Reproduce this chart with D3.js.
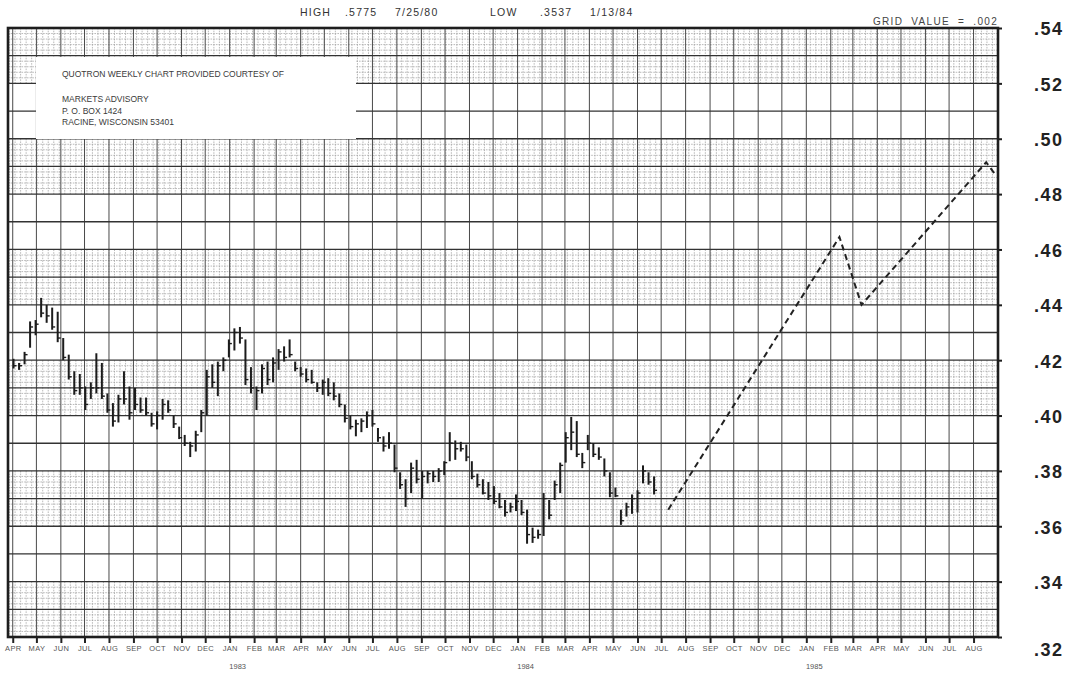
<!DOCTYPE html>
<html><head><meta charset="utf-8">
<script src="https://cdn.jsdelivr.net/npm/d3@7"></script>
<style>
html,body{margin:0;padding:0;background:#fff;}
svg{display:block;font-family:"Liberation Sans",Arial,sans-serif;}
</style></head>
<body>
<svg id="chart" width="1073" height="676"></svg>
<script>
// ---- data ----
const firstWeek = new Date(1982, 3, 2); // weekly bars, Fridays
const highs = [.4205,.419,.423,.434,.4345,.4425,.440,.439,.4375,.428,.422,.416,.415,.4105,.412,.4225,.419,.408,.4045,.4075,
 .416,.4105,.410,.4065,.4065,.401,.4015,.406,.4055,.400,.396,.393,.3905,.3945,.402,.4165,.4185,.4195,.421,.4275,
 .4315,.432,.4275,.4175,.4105,.4185,.4195,.421,.424,.425,.4275,.4195,.4175,.417,.4165,.412,.413,.4135,.412,.408,
 .404,.400,.3985,.399,.4015,.402,.3955,.3925,.394,.3895,.3795,.377,.383,.384,.380,.380,.380,.381,.3835,.394,
 .391,.3905,.3895,.3835,.379,.377,.376,.3745,.372,.3695,.3685,.3715,.3695,.3660,.3595,.3588,.372,.3695,.3765,.383,
 .394,.3995,.398,.3865,.393,.390,.3885,.3845,.3795,.374,.366,.3685,.3715,.373,.382,.3795,.378];
const lows = [.417,.4165,.4185,.4245,.429,.4355,.4335,.431,.4265,.420,.413,.4075,.4075,.402,.406,.408,.406,.401,.396,.3975,
 .404,.3985,.402,.401,.400,.396,.395,.3985,.401,.3955,.3915,.389,.385,.387,.394,.400,.410,.407,.416,.421,
 .4235,.426,.411,.408,.402,.408,.411,.412,.4165,.4195,.421,.416,.414,.412,.4115,.4085,.4075,.407,.4055,.403,
 .3975,.395,.3925,.394,.3955,.396,.3905,.387,.388,.3795,.3735,.367,.372,.3755,.370,.3755,.376,.376,.3785,.3835,
 .384,.387,.3835,.377,.374,.3715,.3695,.368,.3665,.3635,.365,.3655,.3640,.3537,.354,.3555,.3565,.3625,.3695,.372,
 .383,.3875,.385,.381,.3875,.385,.384,.378,.3705,.3705,.3605,.3635,.3645,.365,.3755,.375,.3715];
const closes = [.418,.418,.422,.432,.433,.437,.436,.432,.428,.421,.414,.409,.410,.404,.410,.410,.407,.402,.398,.406,
 .406,.401,.404,.402,.401,.397,.400,.404,.402,.397,.392,.390,.389,.393,.401,.414,.412,.418,.420,.426,
 .430,.428,.413,.410,.409,.417,.413,.419,.423,.421,.422,.417,.415,.413,.412,.410,.412,.408,.407,.404,
 .399,.396,.397,.398,.400,.397,.392,.389,.390,.381,.375,.370,.381,.377,.378,.379,.378,.380,.383,.390,
 .388,.388,.385,.378,.375,.372,.371,.369,.367,.365,.367,.369,.365,.357,.356,.357,.370,.364,.375,.382,
 .392,.394,.386,.383,.390,.386,.385,.380,.372,.371,.362,.367,.370,.372,.380,.376,.373];
const projDates = ["1984-07-10","1985-02-12","1985-03-12","1985-08-17","1985-08-30"];
const projValues = [.366,.4645,.440,.4915,.4865];
const priceTicks = [.32,.34,.36,.38,.40,.42,.44,.46,.48,.50,.52,.54];
const shadedBands = [.32,.36,.40,.44,.48,.52];
const headerItems = ["HIGH",".5775","7/25/80","LOW",".3537","1/13/84"];
const boxLines = ["QUOTRON WEEKLY CHART PROVIDED COURTESY OF","","MARKETS ADVISORY","P. O. BOX 1424","RACINE, WISCONSIN 53401"];
const monthNames = ["JAN","FEB","MAR","APR","MAY","JUN","JUL","AUG","SEP","OCT","NOV","DEC"];

// ---- layout ----
const svg = d3.select("#chart");
const L = 8, R = 998, T = 28, B = 637;
const x = d3.scaleTime().domain([new Date(1982,2,26), new Date(1985,8,1)]).range([L, R]);
const y = d3.scaleLinear().domain([.32,.54]).range([B, T]);

svg.append("rect").attr("width",1073).attr("height",676).attr("fill","#fff");

// fine grid in shaded bands
const weeks = d3.timeWeek.range(x.domain()[0], x.domain()[1]);
const fine = svg.append("g").attr("stroke","#9c9c9c").attr("stroke-width",0.7).attr("stroke-dasharray","1.6,1.1");
shadedBands.forEach(b => {
  const vals = d3.range(1,10).filter(i => i !== 5).map(i => b + i*0.002);
  fine.selectAll(null).data(vals).join("line")
    .attr("x1",L).attr("x2",R).attr("y1",d=>y(d)).attr("y2",d=>y(d));
  fine.selectAll(null).data(weeks).join("line")
    .attr("x1",d=>x(d)).attr("x2",d=>x(d)).attr("y1",y(b+0.02)).attr("y2",y(b));
});

// major grid
const months = d3.timeMonth.range(new Date(1982,3,1), x.domain()[1]);
svg.append("g").attr("stroke","#4a4a4a").attr("stroke-width",1)
  .selectAll("line").data(months).join("line")
  .attr("x1",d=>x(d)).attr("x2",d=>x(d)).attr("y1",T).attr("y2",B);
const majors = d3.range(0,23).map(i => +(0.32 + i*0.01).toFixed(2));
svg.append("g").attr("stroke","#333").attr("stroke-width",1.3)
  .selectAll("line").data(majors).join("line")
  .attr("x1",L).attr("x2",R).attr("y1",d=>y(d)).attr("y2",d=>y(d));

// label box
svg.append("rect").attr("x",36).attr("y",57).attr("width",320).attr("height",82).attr("fill","#fff");
svg.append("g").attr("font-size",8.5).attr("fill","#3a3a3a")
  .selectAll("text").data(boxLines).join("text")
  .attr("x",62).attr("y",(d,i)=> i===0 ? 77 : 79 + i*11.5).text(d=>d);

// border
svg.append("rect").attr("x",L).attr("y",T).attr("width",R-L).attr("height",B-T)
  .attr("fill","none").attr("stroke","#1e1e1e").attr("stroke-width",2.6);

// bars
const bars = svg.append("g").attr("stroke","#1c1c1c");
highs.forEach((h,i) => {
  const d = d3.timeWeek.offset(firstWeek, i);
  const xx = x(d);
  bars.append("line").attr("x1",xx).attr("x2",xx).attr("y1",y(h)).attr("y2",y(lows[i])).attr("stroke-width",2);
  bars.append("line").attr("x1",xx).attr("x2",xx+3).attr("y1",y(closes[i])).attr("y2",y(closes[i])).attr("stroke-width",1.4);
});

// projection
const proj = projDates.map((d,i)=>({d:new Date(d+"T00:00:00"), v:projValues[i]}));
svg.append("path").datum(proj)
  .attr("d", d3.line().x(p=>x(p.d)).y(p=>y(p.v)))
  .attr("fill","none").attr("stroke","#222").attr("stroke-width",2).attr("stroke-dasharray","6,4");

// right axis
const ra = svg.append("g").attr("transform",`translate(${R},0)`)
  .call(d3.axisRight(y).tickValues(priceTicks).tickSize(4).tickPadding(32).tickFormat(d=>d3.format(".2f")(d).replace(/^0/,"")));
ra.select(".domain").remove();
ra.selectAll("line").attr("stroke","#1e1e1e").attr("stroke-width",2);
ra.selectAll("text").attr("font-size",18).attr("font-weight","bold").attr("fill","#222").attr("letter-spacing",1.5)
  .attr("font-family","Liberation Sans, Arial, sans-serif")
  .attr("dy", d => d === .32 ? "1.05em" : "0.38em");

// bottom axis
const ba = svg.append("g").attr("transform",`translate(0,${B})`)
  .call(d3.axisBottom(x).tickValues(months).tickSize(6).tickPadding(3).tickFormat(d=>monthNames[d.getMonth()]));
ba.select(".domain").remove();
ba.selectAll("line").attr("stroke","#222").attr("stroke-width",2);
ba.selectAll("text").attr("font-size",7.5).attr("fill","#555").attr("letter-spacing",0.3)
  .attr("font-family","Liberation Sans, Arial, sans-serif");
const jans = months.filter(d=>d.getMonth()===0);
svg.append("g").attr("font-size",7.5).attr("fill","#555").attr("text-anchor","middle")
  .selectAll("text").data(jans).join("text")
  .attr("x",d=>x(d)+8).attr("y",669).text(d=>d.getFullYear());

// header
const hx = [300, 345, 395, 490, 540, 590];
svg.append("g").attr("font-size",10.5).attr("fill","#333").attr("letter-spacing",1.2)
  .selectAll("text").data(headerItems).join("text")
  .attr("x",(d,i)=>hx[i]).attr("y",16).text(d=>d);
svg.append("text").attr("x",873).attr("y",25).attr("font-size",10).attr("fill","#444")
  .attr("letter-spacing",1.3).attr("xml:space","preserve").text("GRID  VALUE  =  .002");
</script>
</body></html>
